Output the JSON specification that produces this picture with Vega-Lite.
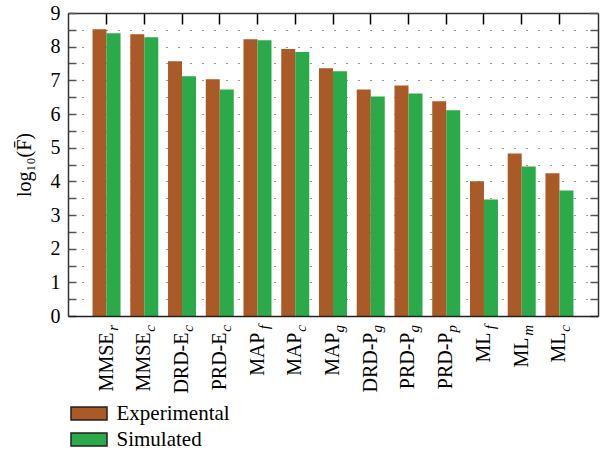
{
  "$schema": "https://vega.github.io/schema/vega-lite/v6.json",
  "width": 530,
  "height": 303,
  "autosize": {"type": "none"},
  "padding": {"left": 68, "top": 13, "right": 7, "bottom": 135},
  "background": "white",
  "view": {"stroke": null},
  "datasets": {
    "bars": [
      {"m": "MMSE_r", "sub": "r", "s": "Experimental", "v": 8.52},
      {"m": "MMSE_r", "sub": "r", "s": "Simulated", "v": 8.40},
      {"m": "MMSE_c", "sub": "c", "s": "Experimental", "v": 8.37},
      {"m": "MMSE_c", "sub": "c", "s": "Simulated", "v": 8.28},
      {"m": "DRD-E_c", "sub": "c", "s": "Experimental", "v": 7.57},
      {"m": "DRD-E_c", "sub": "c", "s": "Simulated", "v": 7.12},
      {"m": "PRD-E_c", "sub": "c", "s": "Experimental", "v": 7.03},
      {"m": "PRD-E_c", "sub": "c", "s": "Simulated", "v": 6.73},
      {"m": "MAP_f", "sub": "f", "s": "Experimental", "v": 8.22},
      {"m": "MAP_f", "sub": "f", "s": "Simulated", "v": 8.19},
      {"m": "MAP_c", "sub": "c", "s": "Experimental", "v": 7.93},
      {"m": "MAP_c", "sub": "c", "s": "Simulated", "v": 7.84},
      {"m": "MAP_g", "sub": "g", "s": "Experimental", "v": 7.36},
      {"m": "MAP_g", "sub": "g", "s": "Simulated", "v": 7.27},
      {"m": "DRD-P_g", "sub": "g", "s": "Experimental", "v": 6.73},
      {"m": "DRD-P_g", "sub": "g", "s": "Simulated", "v": 6.52},
      {"m": "PRD-P_g", "sub": "g", "s": "Experimental", "v": 6.85},
      {"m": "PRD-P_g", "sub": "g", "s": "Simulated", "v": 6.61},
      {"m": "PRD-P_p", "sub": "p", "s": "Experimental", "v": 6.38},
      {"m": "PRD-P_p", "sub": "p", "s": "Simulated", "v": 6.11},
      {"m": "ML_f", "sub": "f", "s": "Experimental", "v": 4.00},
      {"m": "ML_f", "sub": "f", "s": "Simulated", "v": 3.46},
      {"m": "ML_m", "sub": "m", "s": "Experimental", "v": 4.83},
      {"m": "ML_m", "sub": "m", "s": "Simulated", "v": 4.44},
      {"m": "ML_c", "sub": "c", "s": "Experimental", "v": 4.24},
      {"m": "ML_c", "sub": "c", "s": "Simulated", "v": 3.73}
    ]
  },
  "data": {"name": "bars"},
  "resolve": {"axis": {"x": "independent", "y": "independent"}},
  "layer": [
    {
      "mark": {"type": "bar"},
      "encoding": {
        "x": {
          "field": "m", "type": "nominal", "sort": null,
          "scale": {"paddingInner": 0.258, "paddingOuter": 0.65},
          "axis": {
            "orient": "bottom", "title": null, "ticks": false,
            "labelAngle": 270, "labelAlign": "right", "labelBaseline": "middle",
            "labelPadding": 11,
            "labelExpr": "split(datum.value,'_')[0] + (split(datum.value,'_')[1] == 'm' ? '\u00a0\u00a0\u200b' : '\u00a0\u200b')",
            "labelFont": "Liberation Serif", "labelFontSize": 20, "labelColor": "#000",
            "labelOverlap": false,
            "domainColor": "#222", "domainWidth": 1.5, "zindex": 1
          }
        },
        "xOffset": {"field": "s", "type": "nominal", "scale": {"paddingInner": 0, "paddingOuter": 0}},
        "y": {
          "field": "v", "type": "quantitative",
          "scale": {"domain": [0, 9], "nice": false, "zero": true},
          "axis": {
            "orient": "left",
            "values": [0, 0.5, 1, 1.5, 2, 2.5, 3, 3.5, 4, 4.5, 5, 5.5, 6, 6.5, 7, 7.5, 8, 8.5, 9],
            "labelExpr": "datum.value % 1 === 0 ? format(datum.value, 'd') : ''",
            "labelOverlap": false, "labelFlush": false,
            "tickSize": -8, "tickColor": "#555", "tickWidth": 1.5,
            "labelPadding": 16,
            "labelFont": "Liberation Serif", "labelFontSize": 20, "labelColor": "#000",
            "domainColor": "#333", "domainWidth": 1.5,
            "grid": true, "gridDash": [1, 11], "gridDashOffset": 10, "gridColor": "#333", "gridWidth": 1.2,
            "title": "log₁₀(F̄)",
            "titleFont": "Liberation Serif", "titleFontSize": 20, "titleFontWeight": "normal", "titleColor": "#000",
            "titlePadding": 16
          }
        },
        "color": {
          "field": "s", "type": "nominal",
          "scale": {"domain": ["Experimental", "Simulated"], "range": ["#AA5A26", "#2BAA4A"]},
          "legend": {
            "orient": "none", "legendX": 10.5, "legendY": 390, "direction": "vertical",
            "title": null, "padding": 0,
            "symbolType": "M-2.77,-1H2.77V1H-2.77Z", "symbolSize": 169,
            "symbolStrokeColor": "#222", "symbolStrokeWidth": 1.5, "symbolOpacity": 1,
            "labelFont": "Liberation Serif", "labelFontSize": 21, "labelColor": "#000",
            "labelOffset": 17, "rowPadding": 4
          }
        }
      }
    },
    {
      "mark": {"type": "point", "opacity": 0},
      "encoding": {
        "x": {
          "field": "m", "type": "nominal", "sort": null,
          "axis": {
            "orient": "top", "title": null, "labels": false, "ticks": true,
            "tickSize": -11, "tickColor": "#000", "tickWidth": 1.5,
            "domainColor": "#333", "domainWidth": 1.5, "grid": false
          }
        },
        "y": {
          "field": "v", "type": "quantitative",
          "axis": {
            "orient": "right", "title": null, "labels": false, "grid": false,
            "values": [0, 0.5, 1, 1.5, 2, 2.5, 3, 3.5, 4, 4.5, 5, 5.5, 6, 6.5, 7, 7.5, 8, 8.5, 9],
            "tickSize": -8, "tickColor": "#555", "tickWidth": 1.5,
            "domainColor": "#333", "domainWidth": 1.5
          }
        }
      }
    },
    {
      "transform": [{"filter": "datum.s === 'Experimental'"}],
      "mark": {
        "type": "text", "angle": 270, "align": "right", "baseline": "middle",
        "dx": -9, "dy": 6,
        "font": "Liberation Serif", "fontSize": 15, "fontStyle": "italic", "color": "#000"
      },
      "encoding": {
        "x": {"field": "m", "type": "nominal", "sort": null, "axis": null},
        "y": {"datum": 0, "type": "quantitative", "axis": null},
        "text": {"field": "sub"}
      }
    }
  ]
}
